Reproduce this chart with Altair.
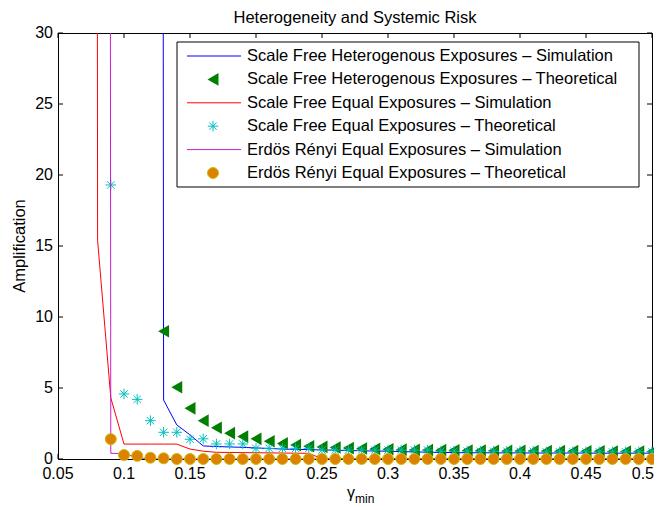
import altair as alt
import pandas as pd

FONT = "Liberation Sans, Arial, Helvetica, sans-serif"

# ---------------- data ----------------
gamma = [0.07, 0.08, 0.09, 0.10, 0.11, 0.12, 0.13, 0.14, 0.15, 0.16, 0.17, 0.18,
         0.19, 0.20, 0.21, 0.22, 0.23, 0.24, 0.25, 0.26, 0.27, 0.28, 0.29, 0.30,
         0.31, 0.32, 0.33, 0.34, 0.35, 0.36, 0.37, 0.38, 0.39, 0.40, 0.41, 0.42,
         0.43, 0.44, 0.45, 0.46, 0.47, 0.48, 0.49, 0.50]

sf_het_sim = [None, None, None, None, None, 1000,
              4.15, 2.4, 1.7, 0.92, 0.88, 0.85, 0.82, 0.78, 0.74, 0.70,
              0.68, 0.66, 0.64, 0.62, 0.60, 0.58, 0.56, 0.55,
              0.52, 0.50, 0.48, 0.46, 0.45,
              0.44, 0.44, 0.43, 0.43, 0.43,
              0.42, 0.42, 0.42, 0.42, 0.42,
              0.41, 0.41, 0.41, 0.41, 0.41]

sf_het_theo = [None, None, None, None, None, None,
               9.0, 5.05, 3.57, 2.7, 2.2, 1.82, 1.58, 1.42, 1.25, 1.1,
               0.98, 0.9, 0.85, 0.81, 0.77, 0.74, 0.71, 0.69,
               0.66, 0.64, 0.63, 0.62, 0.61,
               0.60, 0.59, 0.58, 0.57, 0.57,
               0.56, 0.56, 0.55, 0.55, 0.54,
               0.54, 0.53, 0.53, 0.52, 0.52]

sf_eq_sim = [1000, 15.4, 4.3, 1.05, 1.05, 1.05, 1.05, 1.05,
             0.7, 0.55, 0.47, 0.46, 0.45, 0.44, 0.43, 0.42, 0.41, 0.4, 0.02,
             0.02, 0.02, 0.02, 0.02, 0.02, 0.02, 0.02, 0.02, 0.02, 0.02,
             0.02, 0.02, 0.02, 0.02, 0.02, 0.02, 0.02, 0.02, 0.02, 0.02,
             0.02, 0.02, 0.02, 0.02, 0.02]

sf_eq_theo = [None, None, 19.3, 4.58, 4.2, 2.7, 1.88, 1.88, 1.39, 1.42,
              1.06, 1.06, 1.06,
              0.75, 0.75, 0.75, 0.75, 0.75,
              0.63, 0.63, 0.63, 0.63, 0.63, 0.63, 0.63, 0.63, 0.63,
              0.55, 0.55, 0.55, 0.55, 0.55, 0.55, 0.55, 0.55,
              0.5, 0.5, 0.5, 0.5, 0.5, 0.5, 0.5, 0.5, 0.5]

er_sim = [None, 1000, 0.4, 0.38, 0.1,
          0, 0, 0, 0, 0, 0, 0, 0, 0, 0, 0, 0, 0, 0, 0, 0, 0, 0, 0, 0,
          0, 0, 0, 0, 0, 0, 0, 0, 0, 0, 0, 0, 0, 0, 0, 0, 0, 0, 0]

er_theo = [None, None, 1.4, 0.28, 0.22, 0.09, 0.05,
           0, 0, 0, 0, 0, 0, 0, 0, 0, 0, 0, 0, 0, 0, 0, 0, 0, 0, 0, 0,
           0, 0, 0, 0, 0, 0, 0, 0, 0, 0, 0, 0, 0, 0, 0, 0, 0]

x_ticks = [0.05, 0.1, 0.15, 0.2, 0.25, 0.3, 0.35, 0.4, 0.45, 0.5]
y_ticks = [0, 5, 10, 15, 20, 25, 30]

legend_labels = [
    "Scale Free Heterogenous Exposures \u2013 Simulation",
    "Scale Free Heterogenous Exposures \u2013 Theoretical",
    "Scale Free Equal Exposures \u2013 Simulation",
    "Scale Free Equal Exposures \u2013 Theoretical",
    "Erd\u00f6s R\u00e9nyi Equal Exposures \u2013 Simulation",
    "Erd\u00f6s R\u00e9nyi Equal Exposures \u2013 Theoretical",
]

# ---------------- styles ----------------
W, H = 594, 426
BLUE = "#0000ff"
GREEN = "#007f00"
RED = "#ff0000"
CYAN = "#00bfbf"
MAGENTA = "#c81ec8"
ORANGE = "#de8100"
ORANGE_EDGE = "#c8bb00"
STAR = "M-1,0L1,0M0,-1L0,1M-0.7,-0.7L0.7,0.7M-0.7,0.7L0.7,-0.7"
TRI_SIZE = 160
STAR_SIZE = 110
DOT_SIZE = 120

df = pd.DataFrame({
    "gamma": gamma,
    "sf_het_sim": sf_het_sim,
    "sf_het_theo": sf_het_theo,
    "sf_eq_sim": sf_eq_sim,
    "sf_eq_theo": sf_eq_theo,
    "er_sim": er_sim,
    "er_theo": er_theo,
})

xs = alt.Scale(domain=[0.05, 0.5], nice=False, zero=False)
ys = alt.Scale(domain=[0, 30], nice=False, zero=False)

base = alt.Chart(df)


def X():
    return alt.X("gamma:Q", scale=xs, axis=None)


def Y(col):
    return alt.Y(f"{col}:Q", scale=ys, axis=None)


def line_layer(col, color):
    return base.transform_filter(f"isValid(datum.{col})").mark_line(
        color=color, strokeWidth=1, clip=True
    ).encode(x=X(), y=Y(col), order="gamma:Q")


blue_line = line_layer("sf_het_sim", BLUE)
green_pts = base.transform_filter("isValid(datum.sf_het_theo)").mark_point(
    shape="triangle-left", filled=True, color=GREEN, size=TRI_SIZE, opacity=1
).encode(x=X(), y=Y("sf_het_theo"))
red_line = line_layer("sf_eq_sim", RED)
cyan_pts = base.transform_filter("isValid(datum.sf_eq_theo)").mark_point(
    shape=STAR, filled=False, color=CYAN, strokeWidth=1, size=STAR_SIZE, opacity=1
).encode(x=X(), y=Y("sf_eq_theo"))
mag_line = line_layer("er_sim", MAGENTA)
orange_pts = base.transform_filter("isValid(datum.er_theo)").mark_point(
    shape="circle", filled=True, fill=ORANGE, stroke=ORANGE_EDGE, strokeWidth=1,
    size=DOT_SIZE, opacity=1
).encode(x=X(), y=Y("er_theo"))

# inward ticks on all four sides, and tick labels drawn from the tick lists
xt = pd.DataFrame({"t": x_ticks})
yt = pd.DataFrame({"t": y_ticks})
last_x = x_ticks[-1]
tick_style = dict(color="black", strokeWidth=1)
xt_bot = alt.Chart(xt).mark_rule(**tick_style).encode(
    x=alt.X("t:Q", scale=xs, axis=None), y=alt.value(H), y2=alt.value(H - 5))
xt_top = alt.Chart(xt).mark_rule(**tick_style).encode(
    x=alt.X("t:Q", scale=xs, axis=None), y=alt.value(0), y2=alt.value(5))
yt_left = alt.Chart(yt).mark_rule(**tick_style).encode(
    y=alt.Y("t:Q", scale=ys, axis=None), x=alt.value(0), x2=alt.value(5))
yt_right = alt.Chart(yt).mark_rule(**tick_style).encode(
    y=alt.Y("t:Q", scale=ys, axis=None), x=alt.value(W), x2=alt.value(W - 5))
xt_lab = alt.Chart(xt).transform_filter(f"datum.t < {last_x}").transform_calculate(
    lab="format(datum.t, '~g')").mark_text(
    font=FONT, fontSize=16, align="center", baseline="alphabetic", color="black"
).encode(x=alt.X("t:Q", scale=xs, axis=None), y=alt.value(H + 20), text="lab:N")
# last label kept inside the page edge
xt_lab_last = alt.Chart(xt).transform_filter(f"datum.t >= {last_x}").transform_calculate(
    lab="format(datum.t, '~g')").mark_text(
    font=FONT, fontSize=16, align="right", dx=2, baseline="alphabetic", color="black"
).encode(x=alt.X("t:Q", scale=xs, axis=None), y=alt.value(H + 20), text="lab:N")
yt_lab = alt.Chart(yt).transform_calculate(lab="format(datum.t, '~g')").mark_text(
    font=FONT, fontSize=16, align="right", baseline="middle", color="black"
).encode(y=alt.Y("t:Q", scale=ys, axis=None), x=alt.value(-5), text="lab:N")

one = pd.DataFrame({"d": [0]})

# legend (drawn manually, MATLAB style)
leg_box = alt.Chart(one).mark_rect(fill="white", stroke="black", strokeWidth=1).encode(
    x=alt.value(119), x2=alt.value(581), y=alt.value(9), y2=alt.value(154))
leg_layers = [leg_box]
row_y = [23, 46.4, 69.8, 93.2, 116.6, 140]
kinds = ["line", "tri", "line", "star", "line", "circle"]
colors = [BLUE, GREEN, RED, CYAN, MAGENTA, ORANGE]
for i, lab in enumerate(legend_labels):
    yy = row_y[i]
    k = kinds[i]
    if k == "line":
        sym = alt.Chart(one).mark_rule(color=colors[i], strokeWidth=1).encode(
            x=alt.value(129), x2=alt.value(183), y=alt.value(yy))
    elif k == "tri":
        sym = alt.Chart(one).mark_point(shape="triangle-left", filled=True, color=GREEN,
                                        size=TRI_SIZE, opacity=1).encode(
            x=alt.value(155), y=alt.value(yy))
    elif k == "star":
        sym = alt.Chart(one).mark_point(shape=STAR, filled=False, color=CYAN,
                                        strokeWidth=1, size=STAR_SIZE, opacity=1).encode(
            x=alt.value(155), y=alt.value(yy))
    else:
        sym = alt.Chart(one).mark_point(shape="circle", filled=True, fill=ORANGE,
                                        stroke=ORANGE_EDGE, strokeWidth=1, size=DOT_SIZE,
                                        opacity=1).encode(
            x=alt.value(155), y=alt.value(yy))
    txt = alt.Chart(one).mark_text(text=lab, font=FONT, fontSize=16.5, align="left",
                                   baseline="middle", color="black").encode(
        x=alt.value(189), y=alt.value(yy))
    leg_layers += [sym, txt]

title_txt = alt.Chart(one).mark_text(
    text="Heterogeneity and Systemic Risk", font=FONT, fontSize=16.5, align="center",
    baseline="alphabetic", color="black").encode(x=alt.value(W / 2), y=alt.value(-10))
ytitle = alt.Chart(one).mark_text(
    text="Amplification", font=FONT, fontSize=16.5, align="center", angle=270,
    baseline="alphabetic", color="black").encode(x=alt.value(-33), y=alt.value(H / 2))
xtitle_g = alt.Chart(one).mark_text(
    text="\u03b3", font=FONT, fontSize=16, align="right", baseline="alphabetic",
    color="black").encode(x=alt.value(297), y=alt.value(465))
xtitle_sub = alt.Chart(one).mark_text(
    text="min", font=FONT, fontSize=12, align="left", baseline="alphabetic",
    color="black").encode(x=alt.value(297), y=alt.value(470))

chart = alt.layer(
    xt_bot, xt_top, yt_left, yt_right, xt_lab, xt_lab_last, yt_lab,
    blue_line, green_pts, red_line, cyan_pts, mag_line, orange_pts,
    *leg_layers,
    title_txt, ytitle, xtitle_g, xtitle_sub,
).properties(
    width=W, height=H,
    autosize=alt.AutoSizeParams(type="none"),
    padding={"left": 50, "top": 25, "right": 2, "bottom": 48},
    background="white",
).configure_view(stroke="black", strokeWidth=1)

chart.save("out.html", embed_options={"renderer": "svg", "actions": False})
